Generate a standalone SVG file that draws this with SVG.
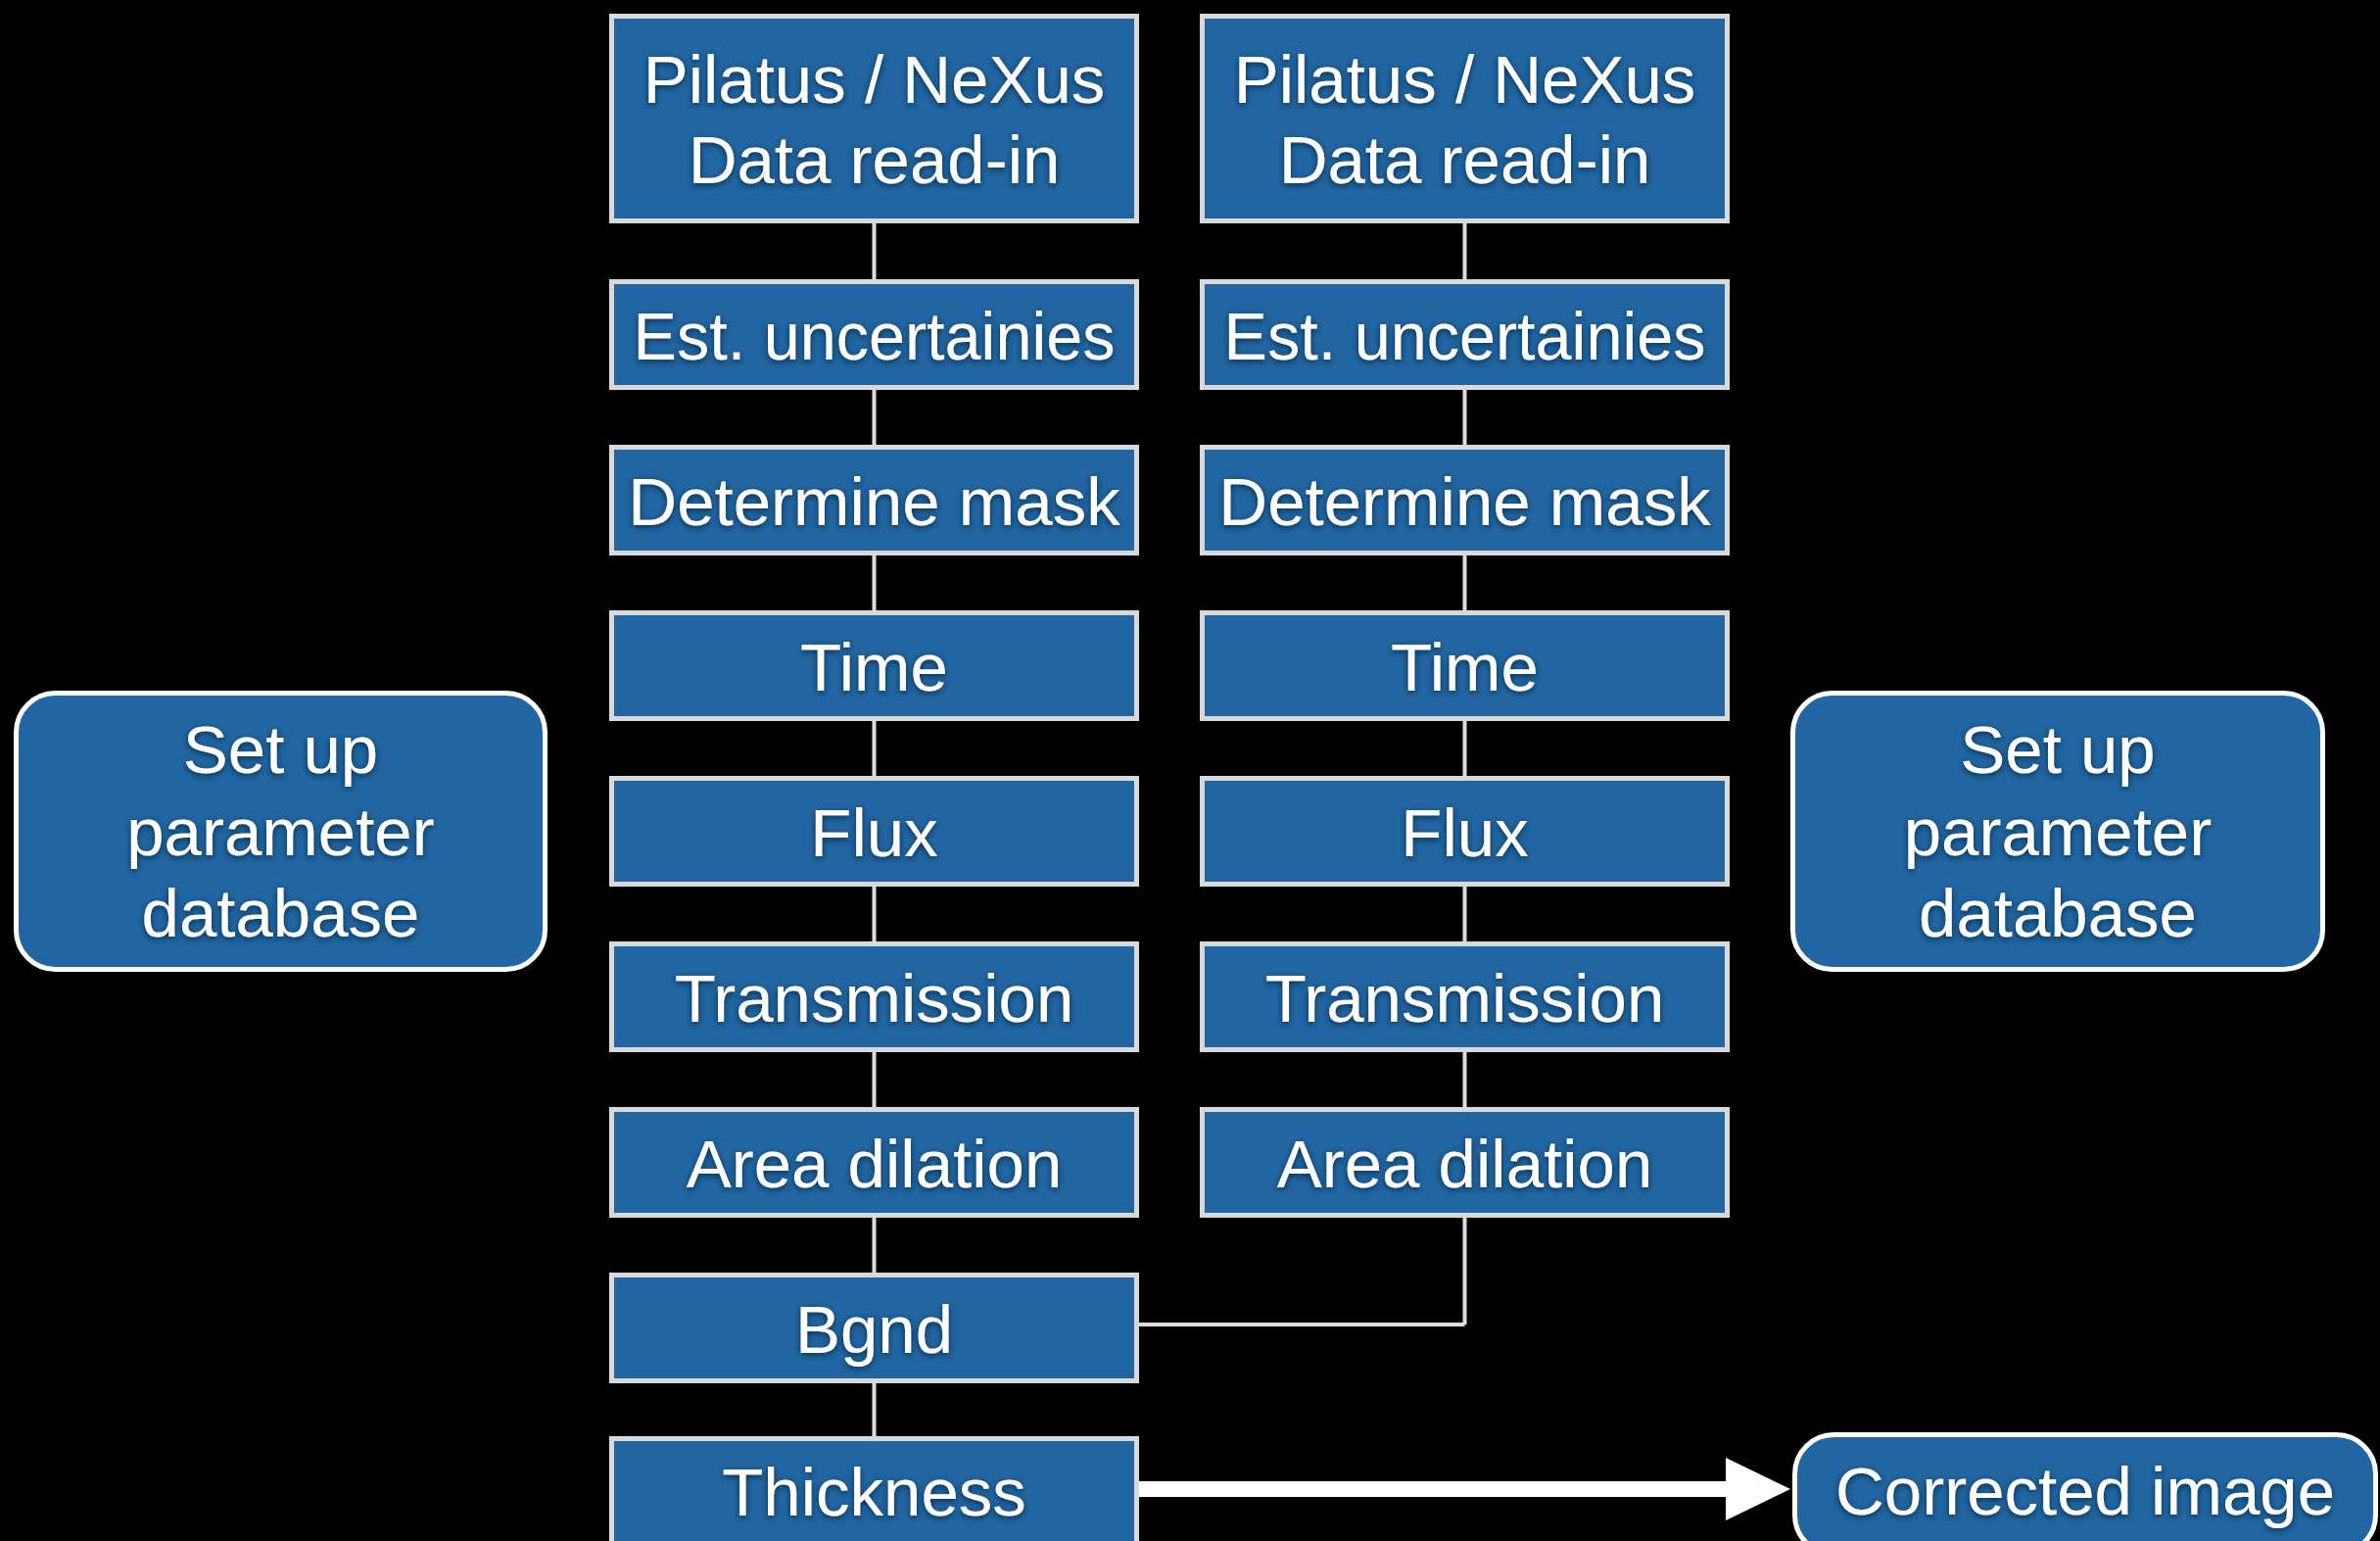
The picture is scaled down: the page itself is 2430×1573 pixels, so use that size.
<svg xmlns="http://www.w3.org/2000/svg" width="2430" height="1573" viewBox="0 0 2430 1573">
<defs>
<filter id="ts" x="-10%" y="-30%" width="120%" height="160%">
<feDropShadow dx="0" dy="2" stdDeviation="3" flood-color="#06203a" flood-opacity="0.9"/>
</filter>
<style>
.box{fill:#2166a2;stroke:#d9d9d9;stroke-width:5}
.rbox{fill:#2166a2;stroke:#ffffff;stroke-width:5}
.t{font-family:"Liberation Sans",Arial,Helvetica,sans-serif;font-size:69px;fill:#ffffff;text-anchor:middle;filter:url(#ts)}
.c{fill:none;stroke:#dedede;stroke-width:4}
</style>
</defs>
<rect x="0" y="0" width="2430" height="1573" fill="#000000"/>
<g id="connectors">
<line class="c" x1="892.5" y1="228" x2="892.5" y2="1468"/>
<line class="c" x1="1495.5" y1="228" x2="1495.5" y2="1352"/>
<line class="c" x1="1495.5" y1="1352" x2="1163" y2="1352"/>
<line x1="1163" y1="1520" x2="1764" y2="1520" stroke="#ffffff" stroke-width="16"/>
<polygon points="1762,1488 1828,1520 1762,1552" fill="#ffffff"/>
</g>
<g id="l1"><rect class="box" x="624.5" y="16.5" width="536" height="209"/><text class="t" x="892.5" y="105">Pilatus / NeXus</text><text class="t" x="892.5" y="187">Data read-in</text></g>
<g id="l2"><rect class="box" x="624.5" y="287.5" width="536" height="108"/><text class="t" x="892.5" y="367" textLength="492" lengthAdjust="spacingAndGlyphs">Est. uncertainies</text></g>
<g id="l3"><rect class="box" x="624.5" y="456.5" width="536" height="108"/><text class="t" x="892.5" y="536">Determine mask</text></g>
<g id="l4"><rect class="box" x="624.5" y="625.5" width="536" height="108"/><text class="t" x="892.5" y="705">Time</text></g>
<g id="l5"><rect class="box" x="624.5" y="794.5" width="536" height="108"/><text class="t" x="892.5" y="874">Flux</text></g>
<g id="l6"><rect class="box" x="624.5" y="963.5" width="536" height="108"/><text class="t" x="892.5" y="1043">Transmission</text></g>
<g id="l7"><rect class="box" x="624.5" y="1132.5" width="536" height="108"/><text class="t" x="892.5" y="1212">Area dilation</text></g>
<g id="l8"><rect class="box" x="624.5" y="1301.5" width="536" height="108"/><text class="t" x="892.5" y="1381">Bgnd</text></g>
<g id="l9"><rect class="box" x="624.5" y="1468.5" width="536" height="108"/><text class="t" x="892.5" y="1547">Thickness</text></g>
<g id="r1"><rect class="box" x="1227.5" y="16.5" width="536" height="209"/><text class="t" x="1495.5" y="105">Pilatus / NeXus</text><text class="t" x="1495.5" y="187">Data read-in</text></g>
<g id="r2"><rect class="box" x="1227.5" y="287.5" width="536" height="108"/><text class="t" x="1495.5" y="367" textLength="492" lengthAdjust="spacingAndGlyphs">Est. uncertainies</text></g>
<g id="r3"><rect class="box" x="1227.5" y="456.5" width="536" height="108"/><text class="t" x="1495.5" y="536">Determine mask</text></g>
<g id="r4"><rect class="box" x="1227.5" y="625.5" width="536" height="108"/><text class="t" x="1495.5" y="705">Time</text></g>
<g id="r5"><rect class="box" x="1227.5" y="794.5" width="536" height="108"/><text class="t" x="1495.5" y="874">Flux</text></g>
<g id="r6"><rect class="box" x="1227.5" y="963.5" width="536" height="108"/><text class="t" x="1495.5" y="1043">Transmission</text></g>
<g id="r7"><rect class="box" x="1227.5" y="1132.5" width="536" height="108"/><text class="t" x="1495.5" y="1212">Area dilation</text></g>
<g id="setupL"><rect class="rbox" x="16.5" y="707.5" width="540" height="282" rx="40"/><text class="t" x="286.5" y="789">Set up</text><text class="t" x="286.5" y="873">parameter</text><text class="t" x="286.5" y="956">database</text></g>
<g id="setupR"><rect class="rbox" x="1830.5" y="707.5" width="541" height="282" rx="40"/><text class="t" x="2101" y="789">Set up</text><text class="t" x="2101" y="873">parameter</text><text class="t" x="2101" y="956">database</text></g>
<g id="corrected"><rect class="rbox" x="1832.5" y="1464.5" width="593" height="122" rx="40"/><text class="t" x="2129" y="1546">Corrected image</text></g>
</svg>
